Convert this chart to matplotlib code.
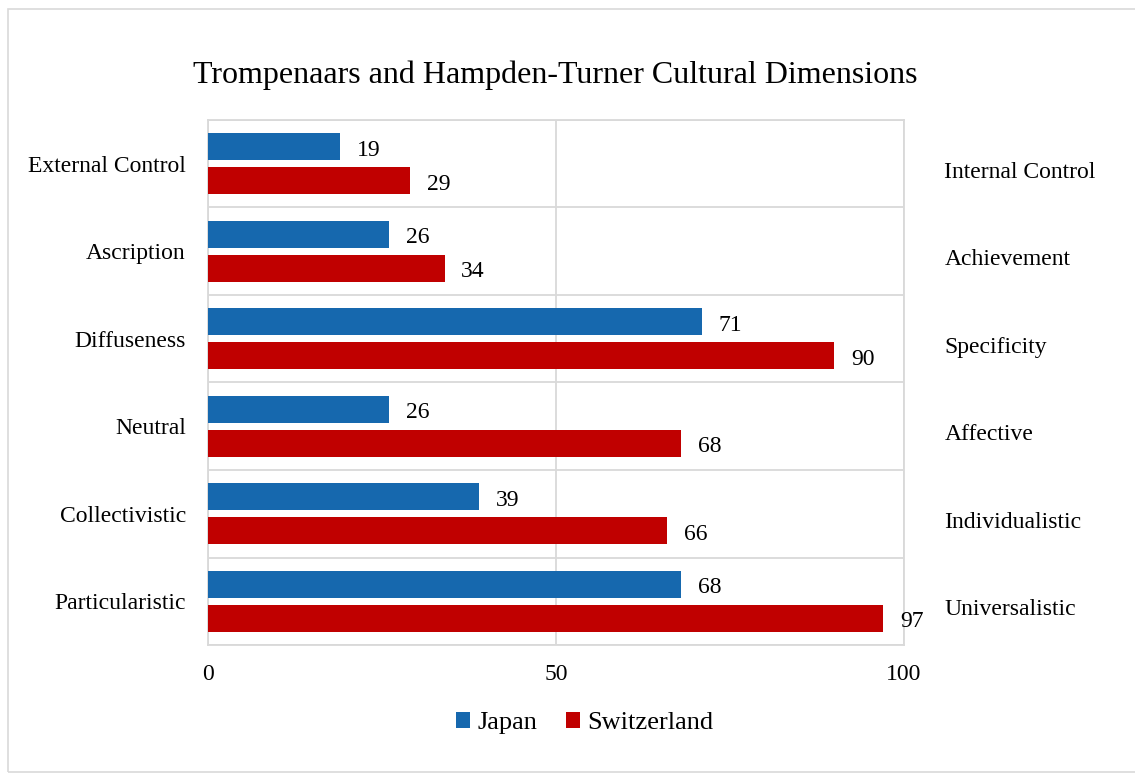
import numpy as np
import matplotlib.pyplot as plt
from matplotlib.patches import Rectangle

left_labels = ["External Control", "Ascription", "Diffuseness", "Neutral",
               "Collectivistic", "Particularistic"]
right_labels = ["Internal Control", "Achievement", "Specificity", "Affective",
                "Individualistic", "Universalistic"]
japan = [19, 26, 71, 26, 39, 68]
switzerland = [29, 34, 90, 68, 66, 97]

plt.rcParams['font.family'] = ['Liberation Serif', 'DejaVu Serif']

fig = plt.figure(figsize=(11.35, 7.76), dpi=100)
ax = fig.add_axes([0.1833, 0.1688, 0.6132, 0.6766])

y = np.arange(len(left_labels))
h = 0.31
gap = 0.08
blue = "#1668ae"
red = "#c00000"
b1 = ax.barh(y - (h + gap) / 2, japan, height=h, color=blue, label="Japan", zorder=3)
b2 = ax.barh(y + (h + gap) / 2, switzerland, height=h, color=red, label="Switzerland", zorder=3)

# value labels
for bars, vals in [(b1, japan), (b2, switzerland)]:
    for bar, v in zip(bars, vals):
        ax.annotate(str(v), (bar.get_width(), bar.get_y() + bar.get_height() / 2),
                    xytext=(12, -2.5), textcoords="offset points",
                    va="center", ha="left", fontsize=17)

ax.set_xlim(0, 100)
ax.set_ylim(len(y) - 0.5, -0.5)
ax.set_xticks([0, 50, 100])
ax.set_yticks(y)
ax.set_yticklabels(left_labels, fontsize=17)
ax.set_yticks(np.arange(-0.5, len(y), 1), minor=True)
ax.tick_params(axis='x', labelsize=17, length=0, pad=14)
ax.tick_params(axis='y', which='both', length=0, pad=16)
ax.grid(axis='x', color="#d9d9d9", lw=1.3, zorder=0)
ax.grid(axis='y', which='minor', color="#d9d9d9", lw=1.3, zorder=0)
for s in ax.spines.values():
    s.set_color("#d9d9d9")
    s.set_linewidth(1.3)

# opposite poles on the right
ax2 = ax.twinx()
ax2.set_ylim(ax.get_ylim())
ax2.set_yticks(y + 0.07)
ax2.set_yticklabels(right_labels, fontsize=17)
ax2.tick_params(axis='y', length=0, pad=29)
for s in ax2.spines.values():
    s.set_visible(False)

fig.text(0.489, 0.903, "Trompenaars and Hampden-Turner Cultural Dimensions",
         ha="center", va="center", fontsize=23)

ax.legend(loc="center", bbox_to_anchor=(0.515, 0.068), bbox_transform=fig.transFigure,
          ncol=2, frameon=False, fontsize=19, handlelength=0.55, handleheight=0.55,
          handletextpad=0.25, columnspacing=1.1)

fig.patches.append(Rectangle((0.007, 0.005), 0.995, 0.984, transform=fig.transFigure,
                             fill=False, edgecolor="#d9d9d9", lw=1.2))

fig.savefig("out.png", dpi=100)
